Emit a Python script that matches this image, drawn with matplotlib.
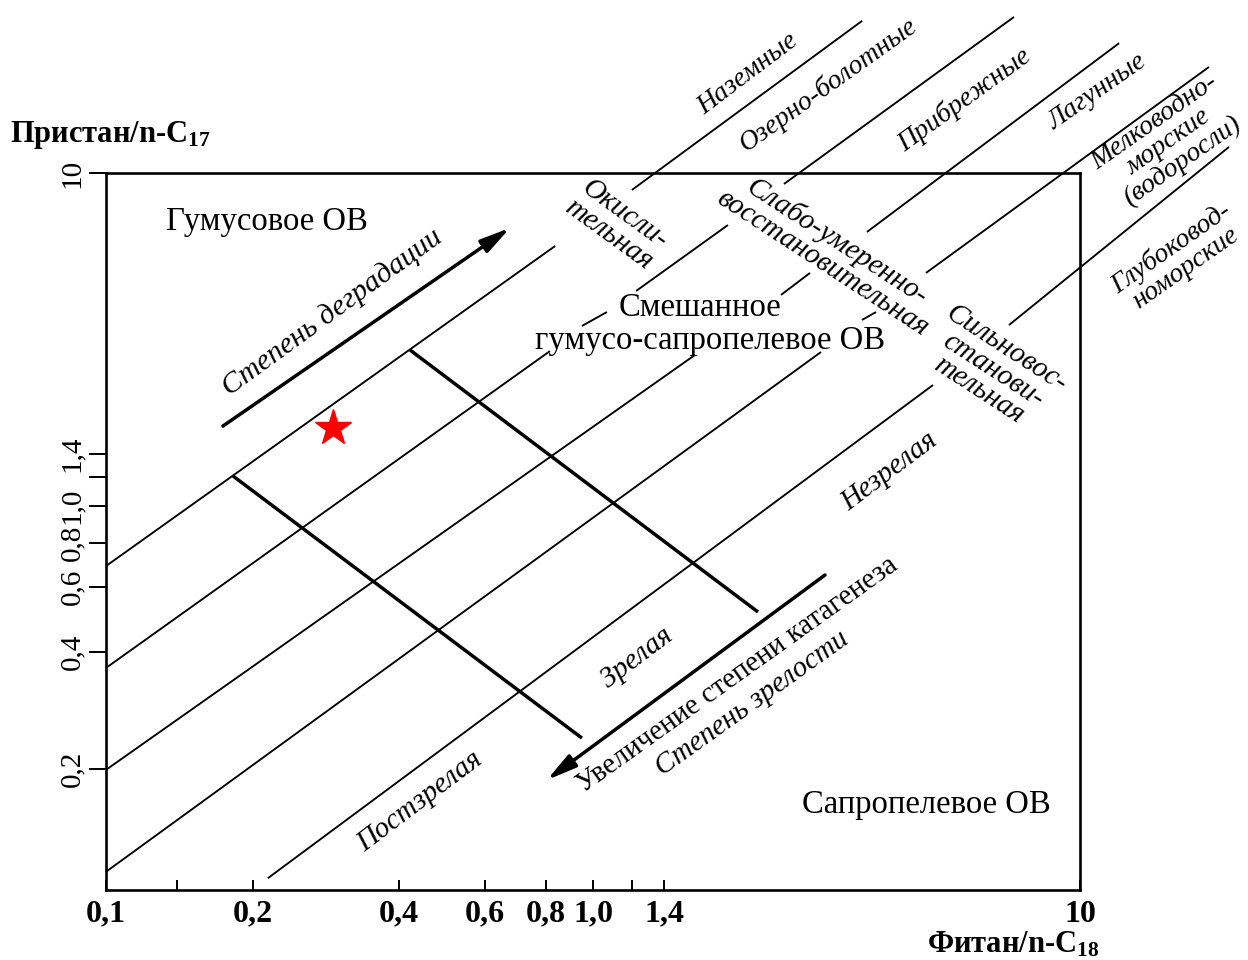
import numpy as np
import matplotlib
matplotlib.use("Agg")
import matplotlib.pyplot as plt

plt.rcParams['font.family'] = ['Liberation Serif', 'DejaVu Serif']
plt.rcParams['mathtext.fontset'] = 'custom'
plt.rcParams['mathtext.rm'] = 'Liberation Serif'
plt.rcParams['mathtext.bf'] = 'Liberation Serif:bold'
plt.rcParams['mathtext.it'] = 'Liberation Serif:italic'

nan = np.nan

# ---- data (Phytane/n-C18 on x, Pristane/n-C17 on y) ----
# parallel facies boundaries (gaps leave room for labels)
L1_x = [0.100, 0.836, nan, 1.202, 3.57]
L1_y = [0.688, 6.00, nan, 8.88, 29.0]
L2_x = [0.100, 0.816, nan, 0.949, 1.068, nan, 1.226, 1.893, nan, 2.467, 7.32]
L2_y = [0.364, 2.877, nan, 3.429, 3.78, nan, 4.38, 6.95, nan, 9.26, 29.8]
L3_x = [0.100, 1.620, nan, 2.432, 2.790, nan, 3.652, 12.03]
L3_y = [0.199, 2.80, nan, 4.26, 4.97, nan, 6.62, 24.8]
L4_x = [0.100, 2.939, nan, 3.567, 3.812, nan, 4.828, 18.40]
L4_y = [0.111, 2.858, nan, 3.576, 3.78, nan, 4.97, 21.0]
L5_x = [0.215, 4.99, nan, 7.149, 20.23]
L5_y = [0.107, 2.268, nan, 3.452, 12.0]

# maturity boundaries (thick)
T1_x = [0.1823, 0.949]
T1_y = [1.208, 0.2402]
T2_x = [0.421, 2.182]
T2_y = [2.898, 0.5133]

# arrows (tail -> head)
arrow_degr = [(0.1738, 1.702), (0.6755, 6.81)]
arrow_kat = [(2.995, 0.649), (0.804, 0.1877)]

# sample point
star_x = [0.2925]
star_y = [1.68]

# axis ticks
x_ticks = [0.1, 0.14, 0.2, 0.4, 0.6, 0.8, 1.0, 1.2, 1.4, 10]
x_labels = ['0,1', '', '0,2', '0,4', '0,6', '0,8', '1,0', '', '1,4', '10']
y_ticks = [0.2, 0.4, 0.6, 0.8, 1.0, 1.2, 1.4, 10]
y_labels = ['0,2', '0,4', '0,6', '0,8', '1,0', '', '1,4', '10']

# hand-drawn y axis of the original: tick values and their relative height
y_knot_vals = [0.1, 0.2, 0.4, 0.6, 0.8, 1.0, 1.2, 1.4, 10]
y_knot_pos = [0.0, 0.1688, 0.3319, 0.4226, 0.4840, 0.5356, 0.5760, 0.6081, 1.0]

# ---- scale ----
_kl = np.log10(np.array(y_knot_vals))
_kp = np.array(y_knot_pos)


def _extrap(x, xp, fp):
    x = np.asarray(x, dtype=float)
    shp = x.shape
    x1 = np.atleast_1d(x).astype(float)
    out = np.interp(x1, xp, fp)
    lo = x1 < xp[0]
    hi = x1 > xp[-1]
    out[lo] = fp[0] + (x1[lo] - xp[0]) * (fp[1] - fp[0]) / (xp[1] - xp[0])
    out[hi] = fp[-1] + (x1[hi] - xp[-1]) * (fp[-1] - fp[-2]) / (xp[-1] - xp[-2])
    return out.reshape(shp)


def y_forward(y):
    y = np.asarray(y, dtype=float)
    with np.errstate(all='ignore'):
        L = np.log10(y)
    L = np.where(y <= 0, -300.0, L)
    return _extrap(L, _kl, _kp)


def y_inverse(v):
    return 10.0 ** _extrap(v, _kp, _kl)


fig = plt.figure(figsize=(12.48, 9.6), dpi=100)
ax = fig.add_axes([106 / 1248, 70 / 960, 974 / 1248, 717 / 960])
ax.set_xscale('log')
ax.set_yscale('function', functions=(y_forward, y_inverse))
ax.set_xlim(0.1, 10)
ax.set_ylim(0.1, 10)

thin = dict(color='black', lw=1.35, clip_on=False, solid_capstyle='butt')
for xs, ys in [(L1_x, L1_y), (L2_x, L2_y), (L3_x, L3_y), (L4_x, L4_y), (L5_x, L5_y)]:
    ax.plot(xs, ys, **thin)

thick = dict(color='black', lw=2.5, solid_capstyle='butt')
ax.plot(T1_x, T1_y, **thick)
ax.plot(T2_x, T2_y, **thick)

for tail, head in [arrow_degr, arrow_kat]:
    ax.annotate('', xy=head, xytext=tail,
                arrowprops=dict(arrowstyle='-|>,head_length=0.9,head_width=0.22',
                                lw=2.5, color='black', shrinkA=0, shrinkB=0,
                                mutation_scale=20))

ax.plot(star_x, star_y, marker='*', ms=27, color='red', mec='red', ls='none')

# spines & ticks
for s in ax.spines.values():
    s.set_linewidth(1.9)
ax.minorticks_off()
ax.set_xticks(x_ticks)
ax.set_xticklabels(x_labels, fontsize=23, fontweight='bold')
ax.xaxis.set_minor_locator(matplotlib.ticker.NullLocator())
ax.tick_params(axis='x', direction='in', length=7, width=1.4, pad=7)
ax.set_yticks(y_ticks)
ax.set_yticklabels(y_labels, fontsize=21, rotation=90, va='center')
ax.yaxis.set_minor_locator(matplotlib.ticker.NullLocator())
ax.tick_params(axis='y', direction='out', length=12, width=1.4, pad=3)

# axis titles
fig.text(0.008, 0.859, r'Пристан/n-C$_{\mathbf{17}}$', fontsize=22,
         fontweight='bold', ha='left', va='center')
fig.text(0.7428, 0.0156, r'Фитан/n-C$_{\mathbf{18}}$', fontsize=22,
         fontweight='bold', ha='left', va='center')

# labels: text, fx, fy, rotation, style, size
labels = [
    ('Гумусовое ОВ', 0.2139, 0.7688, 0, 'normal', 23.5),
    ('Смешанное', 0.5609, 0.6792, 0, 'normal', 23.5),
    ('гумусо-сапропелевое ОВ', 0.5689, 0.6448, 0, 'normal', 23.5),
    ('Сапропелевое ОВ', 0.7420, 0.1615, 0, 'normal', 23.5),
    ('Степень деградации', 0.2660, 0.6750, 36, 'italic', 21.5),
    ('Окисли-\nтельная', 0.4944, 0.7656, -36, 'italic', 21),
    ('Слабо-умеренно-\nвосстановительная', 0.6651, 0.7375, -33, 'italic', 21),
    ('Сильновос-\nстанови-\nтельная', 0.7957, 0.6146, -33, 'italic', 21),
    ('Незрелая', 0.7131, 0.5083, 37, 'italic', 21),
    ('Зрелая', 0.5104, 0.3146, 37, 'italic', 21),
    ('Постзрелая', 0.3365, 0.1646, 37, 'italic', 21),
    ('Увеличение степени катагенеза', 0.5913, 0.2969, 35.5, 'normal', 21),
    ('Степень зрелости', 0.6026, 0.2677, 35.5, 'italic', 21),
    ('Наземные', 0.5994, 0.9229, 37, 'italic', 20),
    ('Озерно-болотные', 0.6635, 0.9115, 35.5, 'italic', 20),
    ('Прибрежные', 0.7732, 0.8958, 36, 'italic', 20),
    ('Лагунные', 0.8790, 0.9042, 35, 'italic', 20),
    ('Мелководно-\nморские\n(водоросли)', 0.9359, 0.8521, 35, 'italic', 20),
    ('Глубоковод-\nноморские', 0.9439, 0.7313, 35, 'italic', 20),
]
for txt, fx, fy, rot, st, fs in labels:
    fig.text(fx, fy, txt, fontsize=fs, style=st, rotation=rot,
             rotation_mode='anchor', ha='center', va='center',
             multialignment='center', linespacing=0.95)

fig.savefig('out.png', dpi=100)
